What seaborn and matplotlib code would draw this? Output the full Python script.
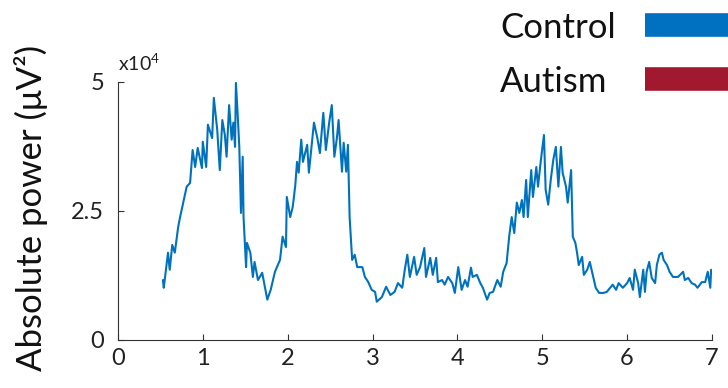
import pandas as pd
import seaborn as sns
import matplotlib.pyplot as plt
from matplotlib.lines import Line2D

# time (s) and absolute power (x10^4 uV^2)
time_s = [0.53, 0.54, 0.59, 0.61, 0.64, 0.67, 0.71, 0.73, 0.77, 0.81,
          0.85, 0.88, 0.91, 0.94, 0.99, 1.00, 1.04, 1.06, 1.11, 1.13,
          1.17, 1.20, 1.23, 1.26, 1.28, 1.31, 1.34, 1.36, 1.38, 1.39,
          1.41, 1.43, 1.45, 1.47, 1.48, 1.51, 1.52, 1.56, 1.59, 1.61,
          1.65, 1.70, 1.76, 1.80, 1.85, 1.91, 1.94, 1.98, 1.99, 2.03,
          2.06, 2.09, 2.11, 2.13, 2.16, 2.18, 2.23, 2.25, 2.29, 2.31,
          2.35, 2.38, 2.42, 2.45, 2.49, 2.52, 2.55, 2.58, 2.60, 2.64,
          2.66, 2.69, 2.71, 2.73, 2.76, 2.79, 2.82, 2.88, 2.91, 2.95,
          2.99, 3.03, 3.05, 3.11, 3.16, 3.21, 3.26, 3.30, 3.35, 3.38,
          3.41, 3.44, 3.49, 3.52, 3.56, 3.61, 3.63, 3.68, 3.71, 3.75,
          3.77, 3.82, 3.85, 3.89, 3.94, 3.97, 4.01, 4.05, 4.09, 4.12,
          4.16, 4.18, 4.23, 4.27, 4.30, 4.35, 4.38, 4.42, 4.47, 4.51,
          4.54, 4.58, 4.61, 4.64, 4.67, 4.70, 4.73, 4.76, 4.78, 4.81,
          4.83, 4.87, 4.89, 4.93, 4.95, 4.98, 5.02, 5.04, 5.07, 5.10,
          5.13, 5.16, 5.19, 5.22, 5.24, 5.28, 5.30, 5.34, 5.36, 5.39,
          5.41, 5.43, 5.47, 5.49, 5.53, 5.56, 5.60, 5.63, 5.67, 5.72,
          5.76, 5.80, 5.83, 5.87, 5.90, 5.95, 6.00, 6.03, 6.07, 6.09,
          6.13, 6.15, 6.19, 6.21, 6.23, 6.26, 6.29, 6.33, 6.35, 6.38,
          6.41, 6.43, 6.47, 6.50, 6.54, 6.60, 6.66, 6.68, 6.72, 6.76,
          6.80, 6.83, 6.88, 6.92, 6.95, 6.98, 6.99]
control_power = [1.16, 1.01, 1.69, 1.36, 1.84, 1.69, 2.19, 2.36, 2.66, 2.97,
                 3.04, 3.68, 3.35, 3.72, 3.33, 3.84, 3.35, 4.17, 3.91, 4.69,
                 4.07, 3.29, 4.26, 3.97, 3.55, 4.55, 3.88, 4.21, 3.74, 4.98,
                 4.40, 3.74, 2.46, 3.55, 2.38, 1.41, 1.88, 1.69, 1.22, 1.51,
                 1.16, 1.30, 0.78, 0.97, 1.32, 1.55, 2.00, 1.80, 2.77, 2.38,
                 2.58, 3.00, 3.45, 3.24, 3.88, 3.45, 3.78, 3.24, 3.88, 4.21,
                 3.91, 3.62, 4.40, 3.68, 4.22, 4.55, 3.55, 3.91, 4.26, 3.26,
                 3.82, 3.26, 3.78, 2.38, 1.55, 1.65, 1.41, 1.41, 1.22, 1.12,
                 0.97, 0.93, 0.74, 0.83, 1.03, 0.87, 0.93, 1.10, 1.01, 1.36,
                 1.65, 1.22, 1.61, 1.26, 1.41, 1.78, 1.22, 1.59, 1.26, 1.59,
                 1.12, 1.16, 1.07, 1.22, 1.10, 0.91, 1.41, 0.97, 1.16, 1.03,
                 1.40, 1.22, 1.26, 1.10, 1.01, 0.78, 0.91, 0.93, 1.16, 1.03,
                 1.32, 1.49, 2.00, 2.38, 2.07, 2.66, 2.46, 2.71, 2.38, 3.10,
                 2.38, 3.29, 2.77, 3.35, 2.97, 3.43, 3.97, 2.91, 2.62, 3.10,
                 3.49, 3.74, 2.97, 3.74, 3.24, 2.97, 2.66, 3.29, 2.00, 1.88,
                 1.69, 1.45, 1.61, 1.26, 1.36, 1.51, 1.22, 1.01, 0.91, 0.91,
                 0.93, 1.01, 1.07, 0.97, 1.10, 1.01, 1.10, 1.20, 0.97, 1.36,
                 1.10, 0.83, 1.36, 0.93, 1.32, 1.51, 1.20, 1.10, 1.45, 1.65,
                 1.69, 1.55, 1.45, 1.32, 1.22, 1.22, 1.32, 1.16, 1.20, 1.10,
                 1.07, 1.01, 1.12, 1.12, 1.32, 1.01, 1.36]

x_ticks = [0, 1, 2, 3, 4, 5, 6, 7]
y_ticks = [0, 2.5, 5]
y_tick_labels = ['0', '2.5', '5']
groups = ['Control', 'Autism']
group_colors = ['#0070C0', '#A0192F']

df = pd.DataFrame({'t': time_s, 'power': control_power})

sns.set_style('ticks')
plt.rcParams['font.family'] = ['Lato', 'DejaVu Sans']
plt.rcParams['mathtext.fontset'] = 'custom'
plt.rcParams['mathtext.rm'] = 'Lato'

fig = plt.figure(figsize=(7.28, 3.88), dpi=100)
ax = fig.add_axes([0.162, 0.124, 0.816, 0.665])

sns.lineplot(data=df, x='t', y='power', ax=ax, color='#0072BD', lw=1.5,
             estimator=None, sort=False)

ax.set_xlim(0, 7)
ax.set_ylim(0, 5)
ax.set_xticks(x_ticks)
ax.set_yticks(y_ticks)
ax.set_yticklabels(y_tick_labels)
ax.set_xlabel('')
ax.set_ylabel('')
sns.despine(ax=ax)
for s in ['left', 'bottom']:
    ax.spines[s].set_color('#333333')
    ax.spines[s].set_linewidth(0.8)
ax.tick_params(axis='both', direction='in', length=4, width=0.8, color='#333333',
               labelsize=17, labelcolor='#222222')
ax.tick_params(axis='y', pad=10)
ax.tick_params(axis='x', pad=6)

ax.text(0.0, 1.03, r'x10$^4$', transform=ax.transAxes, ha='left', va='bottom',
        fontsize=14, color='#222222')

fig.text(0.042, 0.465, 'Absolute power (μV²)', rotation=90, ha='center', va='center',
         fontsize=25, color='#111111')

# legend drawn by hand: labels left-aligned, colour bars running off the right edge
label_y = [0.902, 0.763]
bar_y = [0.936, 0.796]
for name, col, ty, by in zip(groups, group_colors, label_y, bar_y):
    fig.text(0.687, ty, name, ha='left', va='baseline', fontsize=25, color='#111111')
    fig.add_artist(Line2D([0.886, 1.02], [by, by], transform=fig.transFigure,
                          color=col, lw=17, solid_capstyle='butt'))

fig.savefig('out.png', dpi=100)
